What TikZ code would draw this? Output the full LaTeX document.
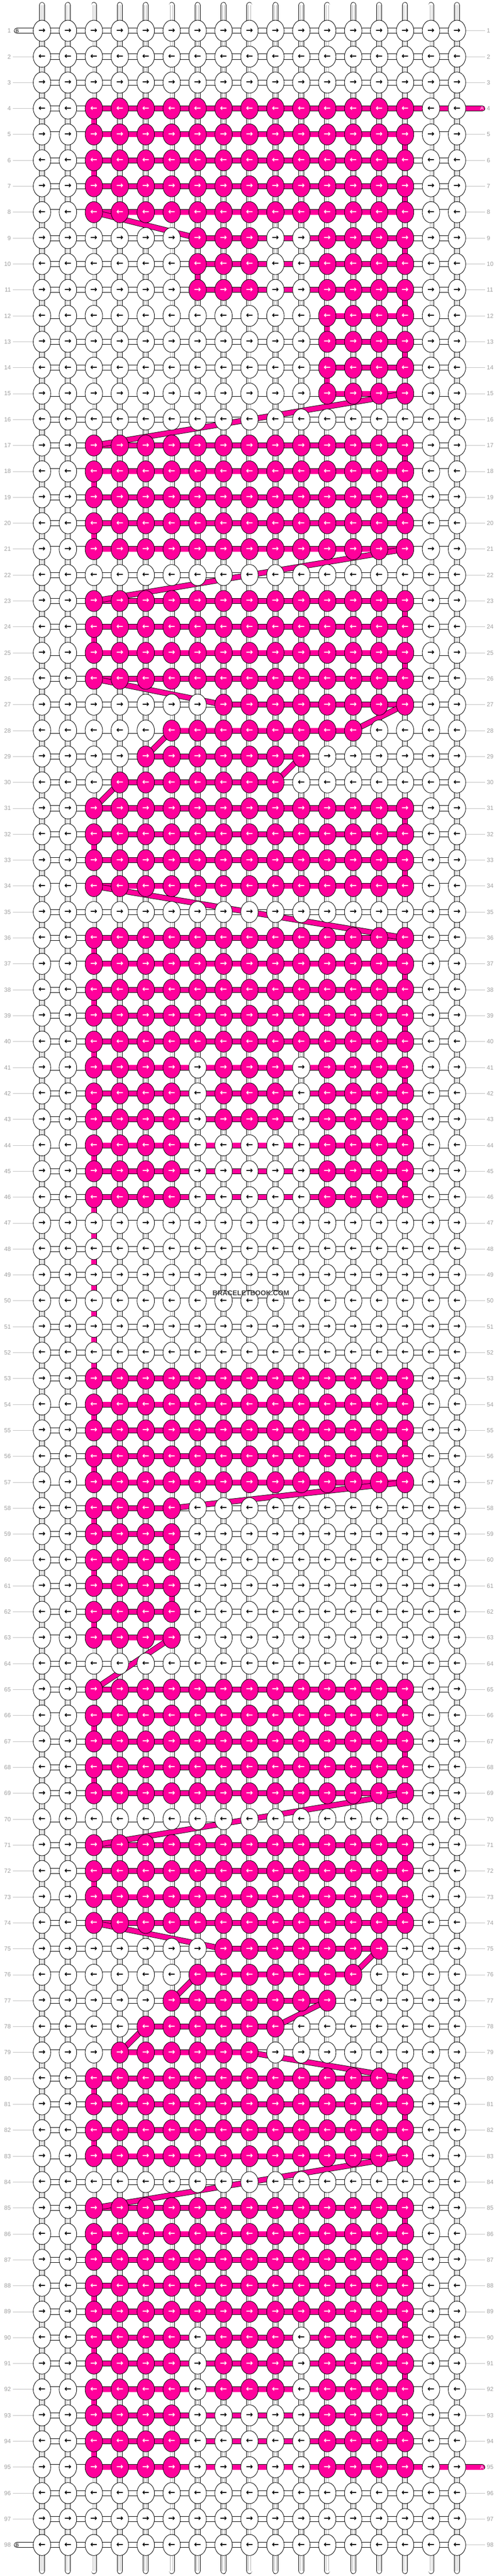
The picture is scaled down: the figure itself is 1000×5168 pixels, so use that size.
\documentclass[tikz,border=0pt]{standalone}
\usepackage{fontspec}
\setmainfont{Liberation Sans}
\newfontfamily\arrowfont{DejaVu Sans}
\usetikzlibrary{shapes.geometric}
\definecolor{pk}{RGB}{255,0,155}
\definecolor{labgray}{RGB}{160,160,160}
\definecolor{lingray}{RGB}{192,192,192}
\definecolor{tubegray}{RGB}{175,175,175}
\definecolor{wmgray}{RGB}{64,64,64}
\pgfdeclarelayer{bg}
\pgfsetlayers{bg,main}
\def\rpatW{0,0,0,0,0,0,0,0,0,0,0,0,0,0,0,0,0}
\def\rpatF{0,0,1,1,1,1,1,1,1,1,1,1,1,1,1,0,0}
\def\rpatG{0,0,0,0,0,0,1,1,1,0,0,1,1,1,1,0,0}
\def\rpatH{0,0,0,0,0,0,0,0,0,0,0,1,1,1,1,0,0}
\def\rpata{0,0,0,0,0,0,0,1,1,1,1,1,1,1,1,0,0}
\def\rpatb{0,0,0,0,0,1,1,1,1,1,1,1,1,0,0,0,0}
\def\rpatc{0,0,0,0,1,1,1,1,1,1,1,0,0,0,0,0,0}
\def\rpatd{0,0,0,1,1,1,1,1,1,1,0,0,0,0,0,0,0}
\def\rpatL{0,0,1,1,1,1,0,1,1,1,0,1,1,1,1,0,0}
\def\rpatM{0,0,1,1,1,1,0,0,0,0,0,1,1,1,1,0,0}
\def\rpatN{0,0,1,1,1,1,0,0,0,0,0,0,0,0,0,0,0}
\def\rpate{0,0,0,0,0,0,0,1,1,1,1,1,1,1,0,0,0}
\def\rpatf{0,0,0,0,0,0,1,1,1,1,1,1,1,0,0,0,0}
\def\rpatg{0,0,0,0,0,1,1,1,1,1,1,1,0,0,0,0,0}
\def\rpath{0,0,0,0,1,1,1,1,1,1,0,0,0,0,0,0,0}
\def\rpati{0,0,0,1,1,1,1,1,1,0,0,0,0,0,0,0,0}
\tikzset{
  knotw/.style={ellipse, draw=black, line width=0.9pt, fill=white, minimum width=35pt, minimum height=42.5pt, inner sep=0pt, text=black, font=\arrowfont\bfseries\fontsize{17}{17}\selectfont},
  knotp/.style={knotw, fill=pk, text=white},
  wband/.style={draw=black, line width=0.9pt, double=white, double distance=9.6pt},
  pband/.style={draw=black, line width=0.9pt, double=pk, double distance=9.6pt},
  tubeline/.style={draw=tubegray, line width=0.8pt},
  labline/.style={draw=lingray, line width=0.9pt},
  rowlab/.style={text=labgray, font=\fontsize{12}{12}\selectfont, inner sep=0pt},
  taillab/.style={font=\fontsize{10}{10}\selectfont, inner sep=0pt}
}
\begin{document}
\begin{tikzpicture}[x=1pt,y=-1pt]
\useasboundingbox (0,0) rectangle (1000,5168);
% knots and row labels
\foreach \rr/\rt in {1/W,2/W,3/W,4/F,5/F,6/F,7/F,8/F,9/G,10/G,11/G,12/H,13/H,14/H,15/H,16/W,17/F,18/F,19/F,20/F,21/F,22/W,23/F,24/F,25/F,26/F,27/a,28/b,29/c,30/d,31/F,32/F,33/F,34/F,35/W,36/F,37/F,38/F,39/F,40/F,41/L,42/L,43/L,44/M,45/M,46/M,47/W,48/W,49/W,50/W,51/W,52/W,53/F,54/F,55/F,56/F,57/F,58/N,59/N,60/N,61/N,62/N,63/N,64/W,65/F,66/F,67/F,68/F,69/F,70/W,71/F,72/F,73/F,74/F,75/e,76/f,77/g,78/h,79/i,80/F,81/F,82/F,83/F,84/W,85/F,86/F,87/F,88/F,89/F,90/L,91/L,92/L,93/M,94/M,95/M,96/W,97/W,98/W} {
  \pgfmathsetmacro\yy{61.7+52*(\rr-1)}
  \edef\cur{\csname rpat\rt\endcsname}
  \ifodd\rr\relax \def\arr{→}\else \def\arr{←}\fi
  \node[rowlab, anchor=east] (ll-\rr) at (22,\yy) {\rr};
  \node[rowlab, anchor=west] (rl-\rr) at (976,\yy) {\rr};
  \foreach \v [count=\cc] in \cur {
    \pgfmathsetmacro\xx{84.2+52*(\cc-1)}
    \ifnum\v=1\relax
      \node[knotp] (k-\rr-\cc) at (\xx,\yy) {\arr};
    \else
      \node[knotw] (k-\rr-\cc) at (\xx,\yy) {\arr};
    \fi
  }
}
\coordinate (bL-1) at (33.8,61.7);
\coordinate (bL-98) at (33.8,5105.7);
\coordinate (aR-4) at (967,217.7);
\coordinate (aR-95) at (967,4949.7);
\begin{pgfonlayer}{bg}
\fill[white] (0,0) rectangle (1000,5168);
% vertical threads with tails
\foreach \cc in {1,...,17} {
  \pgfmathsetmacro\xx{84.2+52*(\cc-1)}
  \coordinate (tt-\cc) at (\xx,10);
  \coordinate (tb-\cc) at (\xx,5158);
  \draw[wband, line cap=round] (tt-\cc) -- (tb-\cc);
  \draw[tubeline] ([xshift=-2.2pt]tt-\cc) -- ([xshift=-2.2pt]tb-\cc);
  \draw[tubeline] ([xshift=2.2pt]tt-\cc) -- ([xshift=2.2pt]tb-\cc);
}
% pink vertical segments
\foreach \rr/\cc in {4/3,5/15,6/3,7/15,9/15,10/7,11/15,12/12,13/15,14/12,17/15,18/3,19/15,20/3,23/15,24/3,25/15,31/15,32/3,33/15,36/3,37/15,38/3,39/15,40/3,41/15,42/3,43/15,44/3,45/15,46/3,47/3,48/3,49/3,50/3,51/3,52/3,53/15,54/3,55/15,56/3,58/3,59/6,60/3,61/6,62/3,65/15,66/3,67/15,68/3,71/15,72/3,73/15,80/3,81/15,82/3,85/15,86/3,87/15,88/3,89/15,90/3,91/15,92/3,93/15,94/3} {
  \pgfmathtruncatemacro\rn{\rr+1}
  \draw[pband] (k-\rr-\cc.center) -- (k-\rn-\cc.center);
}
% horizontal threads
\foreach \rr in {2,...,97} {
  \draw[wband] (k-\rr-1.center) -- (k-\rr-17.center);
}
\draw[wband, line cap=round] (bL-1) -- (k-1-17.center);
\draw[wband, line cap=round] (bL-98) -- (k-98-17.center);
% pink horizontal spans
\foreach \rr/\ca/\cb in {5/3/15,6/3/15,7/3/15,8/3/15,9/7/15,10/7/15,11/7/15,12/12/15,13/12/15,14/12/15,15/12/15,17/3/15,18/3/15,19/3/15,20/3/15,21/3/15,23/3/15,24/3/15,25/3/15,26/3/15,27/8/15,28/6/13,29/5/11,30/4/10,31/3/15,32/3/15,33/3/15,34/3/15,36/3/15,37/3/15,38/3/15,39/3/15,40/3/15,41/3/15,42/3/15,43/3/15,44/3/15,45/3/15,46/3/15,53/3/15,54/3/15,55/3/15,56/3/15,57/3/15,58/3/6,59/3/6,60/3/6,61/3/6,62/3/6,63/3/6,65/3/15,66/3/15,67/3/15,68/3/15,69/3/15,71/3/15,72/3/15,73/3/15,74/3/15,75/8/14,76/7/13,77/6/12,78/5/10,79/4/9,80/3/15,81/3/15,82/3/15,83/3/15,85/3/15,86/3/15,87/3/15,88/3/15,89/3/15,90/3/15,91/3/15,92/3/15,93/3/15,94/3/15} {
  \draw[pband] (k-\rr-\ca.center) -- (k-\rr-\cb.center);
}
\draw[pband, line cap=round] (k-4-3.center) -- (aR-4);
\draw[pband, line cap=round] (k-95-3.center) -- (aR-95);
% pink diagonal jumps
\foreach \ra/\ca/\rb/\cb in {8/3/9/7,15/15/17/3,21/15/23/3,26/3/27/8,27/15/28/13,28/6/29/5,29/11/30/10,30/4/31/3,34/3/36/15,57/15/58/6,63/6/65/3,69/15/71/3,74/3/75/8,75/14/76/13,76/7/77/6,77/12/78/10,78/5/79/4,79/9/80/15,83/15/85/3} {
  \draw[pband] (k-\ra-\ca.center) -- (k-\rb-\cb.center);
}
% row label lines
\foreach \rr in {2,...,97} {
  \draw[labline] ([xshift=4pt]ll-\rr.east) -- (k-\rr-1.center);
}
\foreach \rr in {1,2,3,5,6,7,8,9,10,11,12,13,14,15,16,17,18,19,20,21,22,23,24,25,26,27,28,29,30,31,32,33,34,35,36,37,38,39,40,41,42,43,44,45,46,47,48,49,50,51,52,53,54,55,56,57,58,59,60,61,62,63,64,65,66,67,68,69,70,71,72,73,74,75,76,77,78,79,80,81,82,83,84,85,86,87,88,89,90,91,92,93,94,96,97,98} {
  \draw[labline] (k-\rr-17.center) -- ([xshift=-3pt]rl-\rr.west);
}
\end{pgfonlayer}
% thread end labels
\node[taillab] (tB-1) at (34.5,61.7) {B};
\node[taillab] (tB-98) at (34.5,5105.7) {B};
\node[taillab, text=white] (tA-4) at (966.5,217.7) {A};
\node[taillab, text=white] (tA-95) at (966.5,4949.7) {A};
% watermark
\node[font=\bfseries\fontsize{13.9}{14}\selectfont, text=wmgray, inner sep=0pt] (wm) at (503,2594) {BRACELETBOOK.COM};
\end{tikzpicture}
\end{document}
